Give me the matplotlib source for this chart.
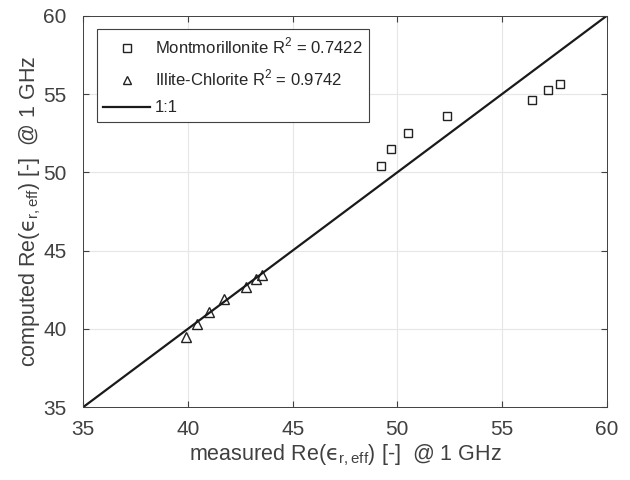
import numpy as np
import matplotlib.pyplot as plt

plt.rcParams['font.family'] = ['Liberation Sans', 'DejaVu Sans']
plt.rcParams['mathtext.fontset'] = 'custom'
plt.rcParams['mathtext.rm'] = 'Liberation Sans'
plt.rcParams['mathtext.it'] = 'DejaVu Sans'

# Montmorillonite (measured, computed)
mont_meas = [49.23, 49.71, 50.52, 52.37, 56.41, 57.21, 57.75]
mont_comp = [50.40, 51.46, 52.49, 53.57, 54.63, 55.23, 55.62]
# Illite-Chlorite
ill_meas = [39.90, 40.44, 41.02, 41.72, 42.77, 43.25, 43.55]
ill_comp = [39.49, 40.30, 41.09, 41.88, 42.68, 43.16, 43.43]

ticks = [35, 40, 45, 50, 55, 60]
gray = '#404040'

fig = plt.figure(figsize=(6.3, 4.8), dpi=100)
ax = fig.add_axes([0.1322, 0.152, 0.8308, 0.815])

ax.plot(mont_meas, mont_comp, 's', mfc='none', mec='#222222', ms=6.2, mew=1.0,
        label='Montmorillonite R$^2$ = 0.7422')
ax.plot(ill_meas, ill_comp, '^', mfc='none', mec='#222222', ms=7.5, mew=1.0,
        label='Illite-Chlorite R$^2$ = 0.9742')
ax.plot([35, 60], [35, 60], '-', color='#1a1a1a', lw=1.6, label='1:1')

ax.set_xlim(35, 60)
ax.set_ylim(35, 60)
ax.set_xticks(ticks)
ax.set_yticks(ticks)
ax.grid(True, color='#e6e6e6', lw=0.8)
ax.set_axisbelow(True)
ax.tick_params(direction='in', labelsize=15, colors=gray, labelcolor='#404040',
               length=4, top=True, right=True)
ax.tick_params(axis='x', pad=9)
ax.tick_params(axis='y', pad=12)
for s in ax.spines.values():
    s.set_color(gray)
    s.set_linewidth(0.7)

ax.set_xlabel('measured Re($\u03f5_{\\mathrm{r,eff}}$) [-]  @ 1 GHz', fontsize=15.5,
              color='#404040', labelpad=3)
ax.set_ylabel('computed Re($\u03f5_{\\mathrm{r,eff}}$) [-]  @ 1 GHz', fontsize=15.5,
              color='#404040', labelpad=0)

leg = ax.legend(loc='upper left', fontsize=12, fancybox=False, edgecolor=gray,
                framealpha=1, borderaxespad=0.8, borderpad=0.4, handlelength=2.8,
                handletextpad=0.3, labelspacing=0.7, markerscale=0.85)
leg.get_frame().set_linewidth(0.8)
for t in leg.get_texts():
    t.set_color('#262626')

fig.savefig('out.png', dpi=100)
